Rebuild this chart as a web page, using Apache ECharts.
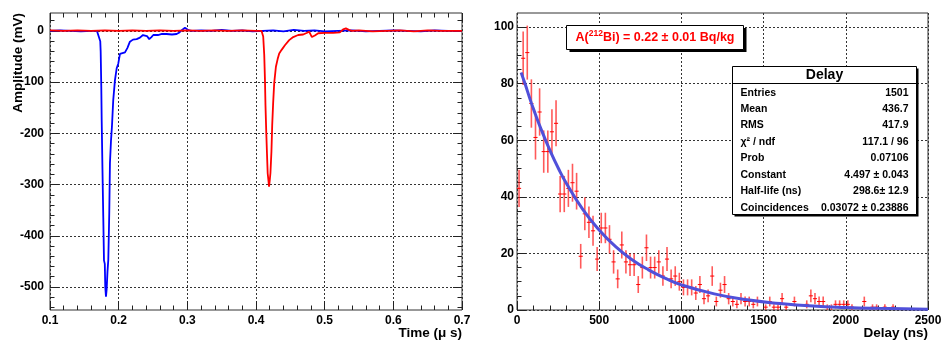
<!DOCTYPE html>
<html><head><meta charset="utf-8">
<script src="https://cdn.jsdelivr.net/npm/echarts@6/dist/echarts.min.js"></script>
<style>html,body{margin:0;padding:0;background:#fff}#c{width:946px;height:341px}</style>
</head><body><div id="c"></div>
<script>
// ---------- data ----------
// left panel: waveforms, [time (us), amplitude (mV)]
const bluePulse = [[0.100,0],[0.115,1],[0.130,0],[0.145,-1],[0.160,0],[0.1684,0],[0.1713,-2],[0.1732,-20],[0.1738,-40],[0.1747,-110],[0.1753,-177],[0.1764,-270],[0.1776,-365],[0.1786,-448],[0.1798,-455],[0.1805,-500],[0.1815,-519],[0.1825,-505],[0.1837,-470],[0.1849,-447],[0.1863,-356],[0.1873,-258],[0.1888,-215],[0.1902,-187],[0.1921,-135],[0.1946,-96],[0.1971,-73],[0.1994,-64],[0.2019,-45],[0.2048,-44],[0.2092,-42],[0.2128,-33],[0.2164,-21],[0.2208,-17],[0.2262,-16],[0.2310,-13],[0.2354,-8],[0.2383,-5],[0.2412,-10],[0.2445,-16],[0.2477,-12],[0.2504,-8],[0.2572,-8],[0.2630,-6],[0.2699,-6],[0.2776,-7],[0.2844,-6],[0.2885,-3],[0.2932,3],[0.2965,6],[0.2994,4],[0.3023,1],[0.3067,0],[0.320,1],[0.335,0],[0.350,2],[0.365,0],[0.380,1],[0.395,-1],[0.410,0],[0.425,1],[0.440,-1],[0.455,2],[0.470,0],[0.485,1],[0.500,-1],[0.520,0],[0.540,1],[0.560,-1],[0.580,0],[0.600,1],[0.620,0],[0.640,-1],[0.660,1],[0.680,0],[0.700,0]];
const redPulse = [[0.100,1],[0.120,0],[0.140,1],[0.160,0],[0.180,1],[0.200,0],[0.220,1],[0.240,0],[0.260,1],[0.280,0],[0.300,1],[0.320,0],[0.340,1],[0.360,0],[0.380,1],[0.400,0],[0.4081,0],[0.4095,-3],[0.4105,-11],[0.4120,-47],[0.4130,-93],[0.4138,-145],[0.4150,-200],[0.4160,-240],[0.4170,-278],[0.4181,-292],[0.4190,-304],[0.4200,-292],[0.4210,-278],[0.4225,-235],[0.4236,-184],[0.4250,-140],[0.4265,-102],[0.4290,-70],[0.4315,-55],[0.4338,-44],[0.4373,-37],[0.4421,-28],[0.4483,-18],[0.4542,-12],[0.4614,-8],[0.4687,-7],[0.4737,-4],[0.4774,-1.5],[0.4814,-12],[0.4857,-9],[0.4906,-4.5],[0.5003,-4],[0.5124,-4],[0.5221,-3],[0.5269,3],[0.5309,5],[0.5352,2],[0.5396,0],[0.550,1],[0.570,-1],[0.590,0],[0.610,1],[0.630,-1],[0.650,1],[0.670,0],[0.700,0]];

// right panel: delay histogram, 25 ns bins from 0 to 2500 ns
const binWidth = 25;
const delayCounts = [
 43, 89, 91, 73, 61, 70, 56, 56, 63, 66,
 41, 41, 43, 45, 42, 19, 34, 31, 28, 18,
 29, 29, 25, 17, 11, 23, 17, 16, 16, 9,
 15, 22, 15, 15, 17, 12, 18, 11, 12, 10,
 8, 8, 8, 6, 9, 4, 5, 12, 3, 7,
 9, 4, 3, 2, 4, 3, 3, 2, 3, 0,
 1, 3, 1, 1, 4, 1, 0, 3, 0, 0,
 2, 5, 4, 3, 3, 1, 1, 2, 2, 2,
 2, 1, 0, 0, 3, 0, 1, 1, 0, 1,
 0, 1, 0, 0, 0, 0, 0, 0, 0, 0];
// fitted decay curve
const fitX = [25, 50, 75, 100, 150, 200, 250, 300, 400, 500, 600, 700, 800, 900, 1000, 1200, 1400, 1600, 1800, 2000, 2200, 2500];
const fitY = [84, 79.8, 75.3, 71.1, 63.4, 56.5, 50.3, 44.8, 35.6, 28.3, 22.4, 17.8, 14.2, 11.3, 8.9, 5.7, 3.6, 2.3, 1.4, 0.9, 0.6, 0.3];

// tick values
const leftXTicks = [0.1, 0.2, 0.3, 0.4, 0.5, 0.6, 0.7];
const leftXMinor = [0.12,0.14,0.16,0.18,0.22,0.24,0.26,0.28,0.32,0.34,0.36,0.38,0.42,0.44,0.46,0.48,0.52,0.54,0.56,0.58,0.62,0.64,0.66,0.68];
const leftYTicks = [-500, -400, -300, -200, -100, 0];
const leftYMinor = [-540,-520,-480,-460,-440,-420,-380,-360,-340,-320,-280,-260,-240,-220,-180,-160,-140,-120,-80,-60,-40,-20,20];
const rightXTicks = [0, 500, 1000, 1500, 2000, 2500];
const rightXMinor = [100,200,300,400,600,700,800,900,1100,1200,1300,1400,1600,1700,1800,1900,2100,2200,2300,2400];
const rightYTicks = [0, 20, 40, 60, 80, 100];
const rightYMinor = [5,10,15,25,30,35,45,50,55,65,70,75,85,90,95];

// text
const titleText = ['A(', '212', 'Bi) = 0.22 \u00b1 0.01 Bq/kg'];
const statsTitle = 'Delay';
const statLabels = ['Entries', 'Mean', 'RMS', '\u03c7\u00b2 / ndf', 'Prob', 'Constant', 'Half-life (ns)', 'Coincidences'];
const statValues = ['1501', '436.7', '417.9', '117.1 / 96', '0.07106', '4.497 \u00b1 0.043', '298.6\u00b1 12.9', '0.03072 \u00b1 0.23886'];
const leftXTitle = 'Time (\u03bc s)';
const leftYTitle = 'Amplitude (mV)';
const rightXTitle = 'Delay (ns)';

// ---------- chart ----------
const FONT = '"Liberation Sans", Arial, Helvetica, sans-serif';
const TICK = '#222';
const labelStyle = {show: true, color: '#000', fontSize: 12, fontWeight: 'bold', fontFamily: FONT};
const gridLine = {show: true, lineStyle: {color: '#333', type: [2, 2], width: 1}};

function ax(o) {
  const base = {type: 'value', axisLine: {show: false, onZero: false}, splitLine: {show: false}, axisLabel: {show: false}};
  return Object.assign(base, o);
}
function ticks(vals, len) {
  return {show: true, inside: true, length: len, customValues: vals, lineStyle: {color: TICK, width: 1}};
}

const xAxes = [
  ax({gridIndex: 0, position: 'bottom', min: 0.1, max: 0.7, interval: 0.1, axisTick: ticks(leftXTicks, 9),
      axisLabel: Object.assign({}, labelStyle, {customValues: leftXTicks, margin: 5, formatter: v => (+v).toFixed(1)}),
      splitLine: gridLine}),
  ax({gridIndex: 0, position: 'bottom', min: 0.1, max: 0.7, axisTick: ticks(leftXMinor, 4.5)}),
  ax({gridIndex: 0, position: 'top', min: 0.1, max: 0.7, axisTick: ticks(leftXTicks, 9)}),
  ax({gridIndex: 0, position: 'top', min: 0.1, max: 0.7, axisTick: ticks(leftXMinor, 4.5)}),
  ax({gridIndex: 1, position: 'bottom', min: 0, max: 2500, interval: 500, axisTick: ticks(rightXTicks, 9),
      axisLabel: Object.assign({}, labelStyle, {customValues: rightXTicks, margin: 5, formatter: v => String(v)}), splitLine: gridLine}),
  ax({gridIndex: 1, position: 'bottom', min: 0, max: 2500, axisTick: ticks(rightXMinor, 4.5)})
];
const yAxes = [
  ax({gridIndex: 0, position: 'left', min: -545, max: 35, axisTick: ticks(leftYTicks, 9),
      axisLabel: Object.assign({}, labelStyle, {customValues: leftYTicks, margin: 6, formatter: v => String(v)}), splitLine: gridLine}),
  ax({gridIndex: 0, position: 'left', min: -545, max: 35, axisTick: ticks(leftYMinor, 4.5)}),
  ax({gridIndex: 0, position: 'right', min: -545, max: 35, axisTick: ticks(leftYTicks, 9)}),
  ax({gridIndex: 0, position: 'right', min: -545, max: 35, axisTick: ticks(leftYMinor, 4.5)}),
  ax({gridIndex: 1, position: 'left', min: 0, max: 105, interval: 20, axisTick: ticks(rightYTicks, 9),
      axisLabel: Object.assign({}, labelStyle, {customValues: rightYTicks, margin: 3, formatter: v => String(v)}), splitLine: gridLine}),
  ax({gridIndex: 1, position: 'left', min: 0, max: 105, axisTick: ticks(rightYMinor, 4.5)})
];

const histData = [];
delayCounts.forEach((c, i) => { if (c > 0) histData.push([(i + 0.5) * binWidth, c]); });
const fitData = fitX.map((x, i) => [x, fitY[i]]);

function renderErr(params, api) {
  const x = api.value(0), v = api.value(1), e = Math.sqrt(v);
  const pc = api.coord([x, v]);
  const pl = api.coord([x - binWidth / 2, v]);
  const pr = api.coord([x + binWidth / 2, v]);
  const pt = api.coord([x, Math.min(v + e, 105)]);
  const pb = api.coord([x, Math.max(v - e, 0)]);
  return {type: 'group', children: [
    {type: 'line', shape: {x1: pt[0], y1: pt[1], x2: pb[0], y2: pb[1]}, style: {stroke: 'rgba(255,20,20,0.7)', lineWidth: 1.6}},
    {type: 'line', shape: {x1: pl[0], y1: pc[1], x2: pr[0], y2: pc[1]}, style: {stroke: '#ff0000', lineWidth: 1}}
  ]};
}

const G = [];
// axis titles
G.push({type: 'text', x: 462, y: 333, style: {text: leftXTitle, align: 'right', verticalAlign: 'middle', fill: '#000', font: 'bold 13.5px ' + FONT}});
G.push({type: 'text', x: 928, y: 333, style: {text: rightXTitle, align: 'right', verticalAlign: 'middle', fill: '#000', font: 'bold 13.5px ' + FONT}});
G.push({type: 'text', x: 18, y: 13, rotation: Math.PI / 2, style: {text: leftYTitle, align: 'right', verticalAlign: 'middle', fill: '#000', font: 'bold 13.5px ' + FONT}});
// title box
G.push({type: 'rect', shape: {x: 569.5, y: 28, width: 177, height: 24}, style: {fill: '#000'}, z: 100});
G.push({type: 'rect', shape: {x: 566.5, y: 25.5, width: 177, height: 24}, style: {fill: '#fff', stroke: '#000', lineWidth: 1}, z: 101});
G.push({type: 'text', x: 655, y: 38, z: 102, style: {
  text: '{n|' + titleText[0] + '}{s|' + titleText[1] + '}{n|' + titleText[2] + '}',
  align: 'center', verticalAlign: 'middle',
  rich: {
    n: {fill: '#ff0000', fontSize: 12.5, fontWeight: 'bold', fontFamily: FONT, lineHeight: 18, verticalAlign: 'middle'},
    s: {fill: '#ff0000', fontSize: 8.5, fontWeight: 'bold', fontFamily: FONT, lineHeight: 18, verticalAlign: 'top'}
  }}});
// stats box
G.push({type: 'rect', shape: {x: 734.5, y: 68.5, width: 184, height: 148}, style: {fill: '#000'}, z: 100});
G.push({type: 'rect', shape: {x: 732.5, y: 66.5, width: 184, height: 148}, style: {fill: '#fff', stroke: '#000', lineWidth: 1}, z: 101});
G.push({type: 'line', shape: {x1: 732.5, y1: 83.5, x2: 916.5, y2: 83.5}, style: {stroke: '#000', lineWidth: 1}, z: 102});
G.push({type: 'text', x: 824.5, y: 75.5, z: 102, style: {text: statsTitle, align: 'center', verticalAlign: 'middle', fill: '#000', font: 'bold 14px ' + FONT}});
statLabels.forEach((l, i) => {
  const y = 92.7 + 16.45 * i;
  G.push({type: 'text', x: 740.5, y: y, z: 102, style: {text: l, align: 'left', verticalAlign: 'middle', fill: '#000', font: 'bold 10.5px ' + FONT}});
  G.push({type: 'text', x: 908.5, y: y, z: 102, style: {text: statValues[i], align: 'right', verticalAlign: 'middle', fill: '#000', font: 'bold 10.5px ' + FONT}});
});

const chart = echarts.init(document.getElementById('c'));
chart.setOption({
  animation: false,
  backgroundColor: '#fff',
  grid: [
    {left: 50, top: 13, width: 412, height: 297, show: true, borderColor: '#333', borderWidth: 1, backgroundColor: 'transparent'},
    {left: 517, top: 13, width: 411, height: 297, show: true, borderColor: '#333', borderWidth: 1, backgroundColor: 'transparent'}
  ],
  xAxis: xAxes,
  yAxis: yAxes,
  series: [
    {type: 'line', xAxisIndex: 0, yAxisIndex: 0, data: bluePulse, showSymbol: false, symbol: 'none',
     lineStyle: {color: '#0000ff', width: 1.8}, itemStyle: {color: '#0000ff'}, z: 2},
    {type: 'line', xAxisIndex: 0, yAxisIndex: 0, data: redPulse, showSymbol: false, symbol: 'none',
     lineStyle: {color: '#ff0000', width: 1.8}, itemStyle: {color: '#ff0000'}, z: 3},
    {type: 'custom', xAxisIndex: 4, yAxisIndex: 4, data: histData, renderItem: renderErr, encode: {x: 0, y: 1}, clip: true, z: 2},
    {type: 'line', xAxisIndex: 4, yAxisIndex: 4, data: fitData, smooth: true, showSymbol: false, symbol: 'none',
     lineStyle: {color: '#5050da', width: 3}, itemStyle: {color: '#5050da'}, z: 4}
  ],
  graphic: {elements: G}
});
</script>
</body></html>
